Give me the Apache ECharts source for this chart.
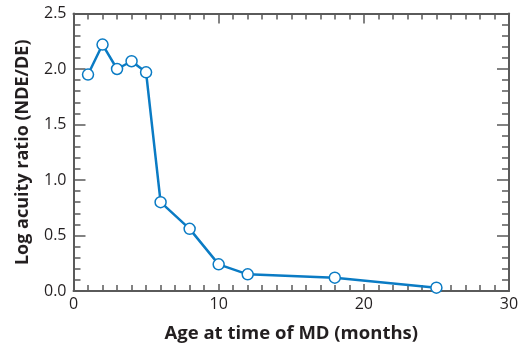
<!DOCTYPE html>
<html><head><meta charset="utf-8">
<script src="https://cdn.jsdelivr.net/npm/echarts@6/dist/echarts.min.js"></script>
<style>html,body{margin:0;padding:0;background:#fff}#c{width:518px;height:344px}</style>
</head><body><div id="c"></div>
<script>
const ages = [1, 2, 3, 4, 5, 6, 8, 10, 12, 18, 25];
const ratios = [1.95, 2.22, 2.0, 2.07, 1.97, 0.80, 0.56, 0.24, 0.15, 0.12, 0.03];
const xTitle = 'Age at time of MD (months)';
const yTitle = 'Log acuity ratio (NDE/DE)';

const FONT = '"Open Sans", "Liberation Sans", sans-serif';
const axisCol = '#5a5a5a';
const textCol = '#231f20';
const lineCol = '#0a7bc4';

const chart = echarts.init(document.getElementById('c'));
const axisBase = {
  axisLine: {show: true, onZero: false, lineStyle: {color: axisCol, width: 2}},
  axisTick: {show: true, inside: true, length: 10, lineStyle: {color: axisCol, width: 1.5}},
  minorTick: {show: true, splitNumber: 10, length: 6, lineStyle: {color: axisCol, width: 1.5}},
  splitLine: {show: false}
};
chart.setOption({
  animation: false,
  grid: {left: 73.5, right: 9, top: 13.5, bottom: 53, containLabel: false, outerBoundsMode: 'none'},
  xAxis: [
    Object.assign({}, axisBase, {
      type: 'value', min: 0, max: 30, interval: 10, position: 'bottom',
      axisTick: {show: true, inside: true, length: 7, lineStyle: {color: axisCol, width: 1.5}},
      axisLabel: {color: textCol, fontFamily: FONT, fontSize: 16, margin: 5},
      name: xTitle, nameLocation: 'middle', nameGap: 33,
      nameTextStyle: {color: textCol, fontFamily: FONT, fontSize: 18.5, fontWeight: 'bold'}
    }),
    Object.assign({}, axisBase, {
      type: 'value', min: 0, max: 30, interval: 10, position: 'top',
      axisLabel: {show: false}
    })
  ],
  yAxis: [
    Object.assign({}, axisBase, {
      type: 'value', min: 0, max: 2.5, interval: 0.5, position: 'left',
      minorTick: {show: true, splitNumber: 5, length: 7, lineStyle: {color: axisCol, width: 1.5}},
      axisTick: {show: true, inside: true, length: 12, lineStyle: {color: axisCol, width: 1.5}},
      axisLabel: {color: textCol, fontFamily: FONT, fontSize: 16, margin: 7,
        formatter: v => v.toFixed(1)},
      name: yTitle, nameLocation: 'middle', nameGap: 42,
      nameTextStyle: {color: textCol, fontFamily: FONT, fontSize: 18, fontWeight: 'bold'}
    }),
    Object.assign({}, axisBase, {
      type: 'value', min: 0, max: 2.5, interval: 0.5, position: 'right',
      minorTick: {show: true, splitNumber: 5, length: 7, lineStyle: {color: axisCol, width: 1.5}},
      axisTick: {show: true, inside: true, length: 12, lineStyle: {color: axisCol, width: 1.5}},
      axisLabel: {show: false}
    })
  ],
  series: [{
    type: 'line',
    data: ages.map((a, i) => [a, ratios[i]]),
    lineStyle: {color: lineCol, width: 2.5},
    symbol: 'circle', symbolSize: 11,
    itemStyle: {color: '#fff', borderColor: lineCol, borderWidth: 1.5},
    z: 5
  }]
});
</script></body></html>
